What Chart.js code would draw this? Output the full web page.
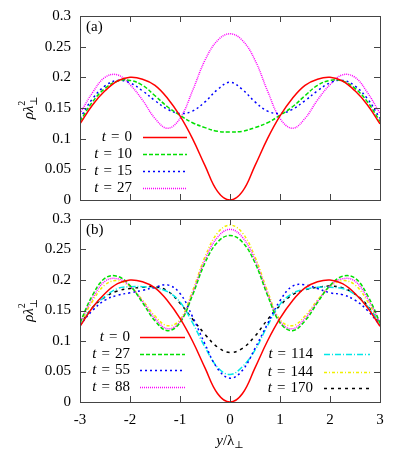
<!DOCTYPE html>
<html>
<head>
<meta charset="utf-8">
<script src="https://cdn.jsdelivr.net/npm/chart.js@4.4.1/dist/chart.umd.min.js"></script>
<style>
  body { margin: 0; background: #fff; }
  #wrap { position: relative; width: 399px; height: 473px; }
  canvas { position: absolute; left: 0; }
</style>
</head>
<body>
<div id="wrap">
  <canvas id="chartA" width="399" height="210" style="top:0"></canvas>
  <canvas id="chartB" width="399" height="268" style="top:205px"></canvas>
</div>
<script>
// positions y/lambda (eixo x) e ticks
const yPos = [-3, -2.75, -2.5, -2.25, -2, -1.75, -1.5, -1.25, -1, -0.75, -0.5, -0.25, 0,
              0.25, 0.5, 0.75, 1, 1.25, 1.5, 1.75, 2, 2.25, 2.5, 2.75, 3];
const xTicks = [-3, -2, -1, 0, 1, 2, 3];
const yTicks = [0, 0.05, 0.1, 0.15, 0.2, 0.25, 0.3];

// painel (a)
const timesA = ['0', '10', '15', '27'];
const rhoA_t0  = [0.124, 0.155, 0.178, 0.194, 0.200, 0.197, 0.187, 0.166, 0.137, 0.100, 0.056, 0.014, 0.000,
                  0.014, 0.056, 0.100, 0.137, 0.166, 0.187, 0.197, 0.200, 0.194, 0.178, 0.155, 0.124];
const rhoA_t10 = [0.128, 0.160, 0.182, 0.194, 0.195, 0.187, 0.170, 0.152, 0.138, 0.126, 0.118, 0.112, 0.111,
                  0.112, 0.118, 0.126, 0.138, 0.152, 0.170, 0.187, 0.195, 0.194, 0.182, 0.160, 0.128];
const rhoA_t15 = [0.133, 0.165, 0.186, 0.195, 0.191, 0.178, 0.162, 0.148, 0.141, 0.145, 0.160, 0.180, 0.192,
                  0.180, 0.160, 0.145, 0.141, 0.148, 0.162, 0.178, 0.191, 0.195, 0.186, 0.165, 0.133];
const rhoA_t27 = [0.141, 0.175, 0.200, 0.204, 0.188, 0.163, 0.133, 0.117, 0.133, 0.178, 0.228, 0.260, 0.271,
                  0.260, 0.228, 0.178, 0.133, 0.117, 0.133, 0.163, 0.188, 0.204, 0.200, 0.175, 0.141];

// painel (b)
const timesB = ['0', '27', '55', '88', '114', '144', '170'];
const rhoB_t0   = [0.124, 0.155, 0.178, 0.194, 0.200, 0.197, 0.187, 0.166, 0.137, 0.100, 0.056, 0.014, 0.000,
                   0.014, 0.056, 0.100, 0.137, 0.166, 0.187, 0.197, 0.200, 0.194, 0.178, 0.155, 0.124];
const rhoB_t27  = [0.130, 0.175, 0.203, 0.206, 0.191, 0.163, 0.133, 0.117, 0.130, 0.175, 0.228, 0.262, 0.273,
                   0.262, 0.228, 0.175, 0.130, 0.117, 0.133, 0.163, 0.191, 0.206, 0.203, 0.175, 0.130];
const rhoB_t55  = [0.126, 0.150, 0.167, 0.175, 0.179, 0.183, 0.188, 0.192, 0.178, 0.140, 0.095, 0.055, 0.039,
                   0.052, 0.088, 0.128, 0.166, 0.190, 0.192, 0.186, 0.179, 0.176, 0.167, 0.150, 0.126];
const rhoB_t88  = [0.130, 0.170, 0.198, 0.202, 0.190, 0.165, 0.137, 0.120, 0.132, 0.178, 0.233, 0.270, 0.283,
                   0.270, 0.233, 0.178, 0.132, 0.120, 0.137, 0.165, 0.190, 0.202, 0.198, 0.170, 0.130];
const rhoB_t114 = [0.125, 0.155, 0.173, 0.186, 0.189, 0.189, 0.187, 0.181, 0.164, 0.130, 0.090, 0.057, 0.045,
                   0.058, 0.085, 0.125, 0.160, 0.178, 0.185, 0.188, 0.188, 0.186, 0.176, 0.157, 0.128];
const rhoB_t144 = [0.128, 0.165, 0.192, 0.199, 0.189, 0.167, 0.141, 0.125, 0.135, 0.182, 0.238, 0.277, 0.290,
                   0.277, 0.238, 0.182, 0.135, 0.125, 0.141, 0.167, 0.189, 0.199, 0.192, 0.165, 0.128];
const rhoB_t170 = [0.126, 0.155, 0.172, 0.182, 0.186, 0.188, 0.189, 0.182, 0.162, 0.136, 0.111, 0.090, 0.081,
                   0.088, 0.108, 0.135, 0.158, 0.176, 0.184, 0.188, 0.190, 0.187, 0.177, 0.158, 0.128];

const FONT = '"Liberation Serif", "DejaVu Serif", serif';

function serie(label, values, color, dash) {
    return {
        label: label,
        data: yPos.map((x, i) => ({ x: x, y: values[i] })),
        borderColor: color,
        borderWidth: 1.5,
        borderDash: dash,
        pointRadius: 0,
        tension: 0.4,
        fill: false
    };
}

// "t = 27" com t em italico
function drawLegendText(ctx, num, right, y) {
    ctx.font = 'italic 15px ' + FONT;
    const wT = ctx.measureText('t').width;
    ctx.font = '15px ' + FONT;
    const wEq = ctx.measureText('=').width;
    const wNum = ctx.measureText(num).width;
    const gap = 5;
    let x = right - (wT + gap + wEq + gap + wNum);
    ctx.textBaseline = 'middle';
    ctx.textAlign = 'left';
    ctx.font = 'italic 15px ' + FONT;
    ctx.fillText('t', x, y);
    x += wT + gap;
    ctx.font = '15px ' + FONT;
    ctx.fillText('=', x, y);
    x += wEq + gap;
    ctx.fillText(num, x, y);
}

// rotulo do eixo y: rho lambda^2 perp
function drawYTitle(ctx, cx, cy) {
    ctx.save();
    ctx.translate(cx, cy);
    ctx.rotate(-Math.PI / 2);
    ctx.textAlign = 'left';
    ctx.textBaseline = 'alphabetic';
    ctx.font = 'italic 15px ' + FONT;
    const w1 = ctx.measureText('ρλ').width;
    ctx.font = '10px ' + FONT;
    const w2 = ctx.measureText('2').width;
    const x0 = -(w1 + w2) / 2;
    ctx.font = 'italic 15px ' + FONT;
    ctx.fillText('ρλ', x0, 5);
    ctx.font = '10px ' + FONT;
    ctx.fillText('2', x0 + w1, -3);
    ctx.fillText('⊥', x0 + w1, 9);
    ctx.restore();
}

const framePlugin = {
    id: 'frame',
    afterDatasetsDraw(chart, args, opts) {
        const ctx = chart.ctx;
        const a = chart.chartArea;
        const xs = chart.scales.x;
        const ys = chart.scales.y;
        ctx.save();

        // moldura e ticks para dentro
        ctx.strokeStyle = '#444';
        ctx.lineWidth = 1;
        ctx.strokeRect(Math.round(a.left) + 0.5, Math.round(a.top) + 0.5,
                       Math.round(a.right - a.left), Math.round(a.bottom - a.top));
        ctx.beginPath();
        xTicks.forEach(v => {
            const px = Math.round(xs.getPixelForValue(v)) + 0.5;
            ctx.moveTo(px, a.bottom); ctx.lineTo(px, a.bottom - 6);
            ctx.moveTo(px, a.top); ctx.lineTo(px, a.top + 6);
        });
        yTicks.forEach(v => {
            const py = Math.round(ys.getPixelForValue(v)) + 0.5;
            ctx.moveTo(a.left, py); ctx.lineTo(a.left + 6, py);
            ctx.moveTo(a.right, py); ctx.lineTo(a.right - 6, py);
        });
        ctx.stroke();

        // legenda
        ctx.fillStyle = '#000';
        opts.legend.forEach(item => {
            const ds = chart.data.datasets[item.ds];
            drawLegendText(ctx, item.num, item.right, item.y);
            ctx.beginPath();
            ctx.strokeStyle = ds.borderColor;
            ctx.lineWidth = 1.5;
            ctx.setLineDash(ds.borderDash || []);
            ctx.moveTo(item.x0, item.y + 0.5);
            ctx.lineTo(item.x1, item.y + 0.5);
            ctx.stroke();
            ctx.setLineDash([]);
        });

        // rotulo do painel
        ctx.fillStyle = '#000';
        ctx.font = '15px ' + FONT;
        ctx.textAlign = 'left';
        ctx.textBaseline = 'middle';
        ctx.fillText(opts.panel, a.left + 6, a.top + 11);

        drawYTitle(ctx, 28, (a.top + a.bottom) / 2 + 2);

        if (opts.xTitle) {
            const cx = (a.left + a.right) / 2;
            const cy = a.bottom + 43;
            ctx.textBaseline = 'alphabetic';
            ctx.font = 'italic 15px ' + FONT;
            const wy = ctx.measureText('y').width;
            ctx.font = '15px ' + FONT;
            const wl = ctx.measureText('/λ').width;
            ctx.font = '10px ' + FONT;
            const wp = ctx.measureText('⊥').width;
            let x = cx - (wy + wl + wp) / 2;
            ctx.font = 'italic 15px ' + FONT;
            ctx.fillText('y', x, cy);
            x += wy;
            ctx.font = '15px ' + FONT;
            ctx.fillText('/λ', x, cy);
            x += wl;
            ctx.font = '10px ' + FONT;
            ctx.fillText('⊥', x, cy + 3);
        }
        ctx.restore();
    }
};

function baseOptions(showX, xHeight, padTop, padBottom, frameOpts) {
    return {
        responsive: false,
        animation: false,
        devicePixelRatio: 1,
        layout: { padding: { left: 0, right: 19, top: padTop, bottom: padBottom } },
        plugins: {
            legend: { display: false },
            tooltip: { enabled: false },
            frame: frameOpts
        },
        scales: {
            x: {
                type: 'linear',
                min: -3,
                max: 3,
                grid: { display: false, drawTicks: false },
                border: { display: false },
                ticks: {
                    display: showX,
                    stepSize: 1,
                    padding: 9,
                    color: '#000',
                    font: { family: FONT, size: 15 }
                },
                afterFit: scale => {
                    scale.height = xHeight;
                    scale.paddingLeft = 0;
                    scale.paddingRight = 0;
                }
            },
            y: {
                min: 0,
                max: 0.3,
                grid: { display: false, drawTicks: false },
                border: { display: false },
                ticks: {
                    stepSize: 0.05,
                    padding: 9,
                    color: '#000',
                    font: { family: FONT, size: 15 },
                    callback: v => String(parseFloat(v.toFixed(2)))
                },
                afterFit: scale => {
                    // fixa a area do grafico
                    scale.width = 80;
                    scale.paddingTop = 0;
                    scale.paddingBottom = 0;
                }
            }
        }
    };
}

// painel (a)
new Chart(document.getElementById('chartA'), {
    type: 'line',
    data: {
        datasets: [
            serie('t = ' + timesA[0], rhoA_t0, '#ff0000', []),
            serie('t = ' + timesA[1], rhoA_t10, '#00e000', [4, 2]),
            serie('t = ' + timesA[2], rhoA_t15, '#0000ff', [2, 3]),
            serie('t = ' + timesA[3], rhoA_t27, '#ff00ff', [1, 1])
        ]
    },
    options: baseOptions(false, 10, 16, 0, {
        panel: '(a)',
        xTitle: false,
        legend: [
            { ds: 0, num: timesA[0], right: 132, x0: 143, x1: 187, y: 137 },
            { ds: 1, num: timesA[1], right: 132, x0: 143, x1: 187, y: 154 },
            { ds: 2, num: timesA[2], right: 132, x0: 143, x1: 187, y: 171 },
            { ds: 3, num: timesA[3], right: 132, x0: 143, x1: 187, y: 188 }
        ]
    }),
    plugins: [framePlugin]
});

// painel (b)
new Chart(document.getElementById('chartB'), {
    type: 'line',
    data: {
        datasets: [
            serie('t = ' + timesB[0], rhoB_t0, '#ff0000', []),
            serie('t = ' + timesB[1], rhoB_t27, '#00e000', [4, 2]),
            serie('t = ' + timesB[2], rhoB_t55, '#0000ff', [2, 3]),
            serie('t = ' + timesB[3], rhoB_t88, '#ff00ff', [1, 1]),
            serie('t = ' + timesB[4], rhoB_t114, '#00e8e8', [6, 2, 1, 2]),
            serie('t = ' + timesB[5], rhoB_t144, '#f0f000', [3, 2, 1, 2]),
            serie('t = ' + timesB[6], rhoB_t170, '#000000', [3, 4])
        ]
    },
    options: baseOptions(true, 71, 14, 0, {
        panel: '(b)',
        xTitle: true,
        legend: [
            { ds: 0, num: timesB[0], right: 130, x0: 140, x1: 185, y: 132 },
            { ds: 1, num: timesB[1], right: 130, x0: 140, x1: 185, y: 149 },
            { ds: 2, num: timesB[2], right: 130, x0: 140, x1: 185, y: 165 },
            { ds: 3, num: timesB[3], right: 130, x0: 140, x1: 185, y: 182 },
            { ds: 4, num: timesB[4], right: 313, x0: 324, x1: 370, y: 149 },
            { ds: 5, num: timesB[5], right: 313, x0: 324, x1: 370, y: 167 },
            { ds: 6, num: timesB[6], right: 313, x0: 324, x1: 370, y: 183 }
        ]
    }),
    plugins: [framePlugin]
});
</script>
</body>
</html>
